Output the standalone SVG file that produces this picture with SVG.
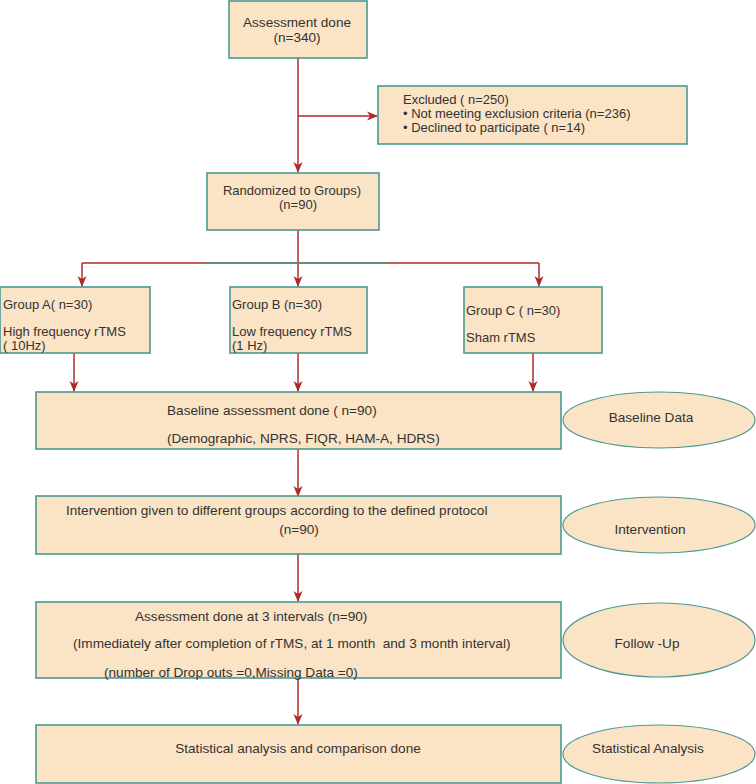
<svg xmlns="http://www.w3.org/2000/svg" width="756" height="784" viewBox="0 0 756 784">
<defs>
<marker id="ah" markerWidth="11" markerHeight="11" refX="10" refY="5.5" orient="auto" markerUnits="userSpaceOnUse">
<path d="M0,1 L11,5.5 L0,10 L3,5.5 Z" fill="#b02a2a"/>
</marker>
<style>
.box{fill:#fbe3c5;stroke:#4a9995;stroke-width:1.6}
.ell{fill:#fbe3c5;stroke:#4a9995;stroke-width:1.2}
.t{font-family:"Liberation Sans",Arial,sans-serif;font-size:13.6px;fill:#333}
.s{font-family:"Liberation Sans",Arial,sans-serif;font-size:13px;fill:#333}
.c{text-anchor:middle}
.ln{stroke:#b02a2a;stroke-width:1.5;fill:none}
</style>
</defs>
<rect width="756" height="784" fill="#ffffff"/>
<g id="connectors">
<line class="ln" x1="298" y1="58" x2="298" y2="172" marker-end="url(#ah)"/>
<line class="ln" x1="298" y1="116" x2="377" y2="116" marker-end="url(#ah)"/>
<line class="ln" x1="298" y1="230" x2="298" y2="286" marker-end="url(#ah)"/>
<line class="ln" x1="82" y1="263" x2="539" y2="263"/>
<line x1="205" y1="263" x2="387" y2="263" stroke="#4a9995" stroke-width="1.5"/>
<line class="ln" x1="82" y1="263" x2="82" y2="286" marker-end="url(#ah)"/>
<line class="ln" x1="539" y1="263" x2="539" y2="286" marker-end="url(#ah)"/>
<line class="ln" x1="74" y1="353" x2="74" y2="391" marker-end="url(#ah)"/>
<line class="ln" x1="298" y1="353" x2="298" y2="391" marker-end="url(#ah)"/>
<line class="ln" x1="533" y1="353" x2="533" y2="391" marker-end="url(#ah)"/>
<line class="ln" x1="298" y1="449" x2="298" y2="496" marker-end="url(#ah)"/>
<line class="ln" x1="298" y1="554" x2="298" y2="601" marker-end="url(#ah)"/>
<line class="ln" x1="298" y1="678" x2="298" y2="724" marker-end="url(#ah)"/>
</g>
<g id="assessment">
<rect class="box" x="229" y="1" width="138" height="57"/>
<text class="t c" x="297" y="27">Assessment done</text>
<text class="t c" x="297" y="42">(n=340)</text>
</g>
<g id="excluded">
<rect class="box" x="378" y="86" width="309" height="58"/>
<text class="s" x="403" y="104">Excluded ( n=250)</text>
<text class="s" x="403" y="118">• Not meeting exclusion criteria (n=236)</text>
<text class="s" x="403" y="132">• Declined to participate ( n=14)</text>
</g>
<g id="randomized">
<rect class="box" x="207" y="173" width="172" height="57"/>
<text class="s c" x="292" y="195">Randomized to Groups)</text>
<text class="s c" x="298" y="209">(n=90)</text>
</g>
<g id="groupA">
<rect class="box" x="0" y="287" width="150" height="66"/>
<text class="s" x="3" y="309">Group A( n=30)</text>
<text class="s" x="3" y="336">High frequency rTMS</text>
<text class="s" x="3" y="350"> ( 10Hz)</text>
</g>
<g id="groupB">
<rect class="box" x="230" y="287" width="137" height="66"/>
<text class="s" x="232" y="309">Group B (n=30)</text>
<text class="s" x="232" y="336">Low frequency rTMS</text>
<text class="s" x="232" y="350">(1 Hz)</text>
</g>
<g id="groupC">
<rect class="box" x="464" y="287" width="138" height="66"/>
<text class="s" x="466" y="315">Group C ( n=30)</text>
<text class="s" x="466" y="342">Sham rTMS</text>
</g>
<g id="baseline">
<rect class="box" x="36" y="392" width="525" height="57"/>
<text class="t" x="167" y="415">Baseline assessment done ( n=90)</text>
<text class="t" x="167" y="443">(Demographic, NPRS, FIQR, HAM-A, HDRS)</text>
</g>
<g id="baselineData">
<ellipse class="ell" cx="659" cy="420" rx="96" ry="28"/>
<text class="t c" x="651" y="422">Baseline Data</text>
</g>
<g id="intervention">
<rect class="box" x="36" y="496" width="525" height="58"/>
<text class="t" x="66" y="515">Intervention given to different groups according to the defined protocol</text>
<text class="t c" x="299" y="534">(n=90)</text>
</g>
<g id="interventionEll">
<ellipse class="ell" cx="659" cy="525" rx="96" ry="28"/>
<text class="t c" x="650" y="534">Intervention</text>
</g>
<g id="followup">
<rect class="box" x="36" y="602" width="525" height="76"/>
<text class="t" x="135" y="621">Assessment done at 3 intervals (n=90)</text>
<text class="t" x="73" y="648">(Immediately after completion of rTMS, at 1 month&#160; and 3 month interval)</text>
<text class="t" x="104" y="677">(number of Drop outs =0,Missing Data =0)</text>
</g>
<g id="followupEll">
<ellipse class="ell" cx="659" cy="640" rx="96" ry="37"/>
<text class="t c" x="647" y="648">Follow -Up</text>
</g>
<g id="stats">
<rect class="box" x="36" y="725" width="525" height="58"/>
<text class="t c" x="298" y="753">Statistical analysis and comparison done</text>
</g>
<g id="statsEll">
<ellipse class="ell" cx="659" cy="754" rx="96" ry="29"/>
<text class="t c" x="648" y="753">Statistical Analysis</text>
</g>
</svg>
